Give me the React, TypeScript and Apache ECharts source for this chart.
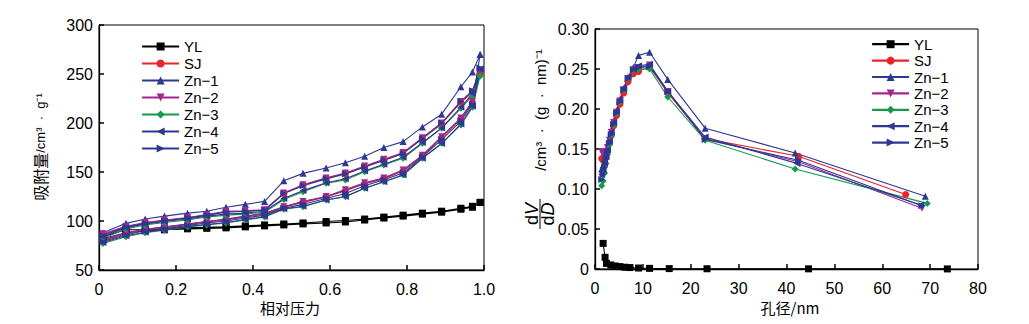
import React, { useEffect, useRef } from "react";
import * as echarts from "echarts";

// ---------- Left chart: adsorption isotherms ----------
const P_ADS = [0.01, 0.07, 0.12, 0.17, 0.23, 0.28, 0.33, 0.38, 0.43, 0.48, 0.53, 0.59, 0.64, 0.69, 0.74, 0.79, 0.84, 0.89, 0.94, 0.97, 0.99];
const P_DES = [0.99, 0.97, 0.94, 0.89, 0.84, 0.79, 0.74, 0.69, 0.64, 0.59, 0.53, 0.48, 0.43, 0.38, 0.33, 0.28, 0.23, 0.17, 0.12, 0.07, 0.01];

const YL_ADS = [80, 88, 90, 91, 92, 92.5, 93, 94, 95, 96, 97, 98, 99, 101, 103, 105, 107, 109, 112, 114, 119];
const YL_DES = [119, 115, 113, 110, 108, 106, 104, 102, 100.5, 99.5, 98, 97, 96, 95, 94, 93.5, 93, 92, 91, 91, 84];
const SJ_ADS = [80, 87, 91, 93, 96.5, 99, 101, 104, 107, 114, 119, 124.5, 131, 138, 143, 151, 166, 185, 204, 221, 250];
const SJ_DES = [250, 231, 221, 199, 184, 169, 162, 155, 148.6, 143.6, 136.7, 128, 111, 110, 109.5, 106, 103, 100.5, 98, 94, 86];
const ZN1_ADS = [82, 88, 91.5, 94, 97, 99.5, 102, 105, 108, 114.6, 119.7, 124.8, 131.6, 138.5, 143.6, 152, 167, 186, 205, 222, 270];
const ZN1_DES = [270, 252, 237, 209, 196, 181, 175, 166, 159.5, 154, 148.6, 141, 120, 117, 114, 110, 108, 105, 102, 97.6, 88];
const ZN2_ADS = [81, 87.5, 91.5, 93.5, 97, 99.5, 101.5, 104.5, 107.5, 114.6, 120, 125, 132, 139, 144, 152, 167, 186, 205, 222, 252];
const ZN2_DES = [252, 232, 222, 200, 185, 170, 163, 156, 149, 144, 137, 128.5, 111.5, 110.5, 110, 106.5, 103.5, 101, 98.5, 94.5, 87];
const ZN3_ADS = [77, 84, 88, 90.5, 94, 96, 98, 101, 104, 112, 114.6, 121.4, 124.8, 133.4, 140.1, 146.9, 164, 179.3, 198, 216, 248];
const ZN3_DES = [248, 228, 215, 194.6, 179.3, 164, 157.1, 150.3, 141.8, 138.5, 129.9, 122, 109, 107, 106, 104, 101, 98.5, 96, 92, 82];
const ZN4_ADS = [78, 85, 88.5, 91, 94.5, 96.5, 98.5, 101.5, 104.5, 112.5, 115, 121.5, 125, 133.5, 140, 147, 164, 179, 199, 217, 255];
const ZN4_DES = [255, 230, 216, 195, 180, 165, 158, 151, 143, 139, 131, 123, 110, 108, 107, 105, 102, 99.5, 97, 93, 84];
const ZN5_ADS = [79, 86, 90, 92, 95.5, 98, 100, 103, 106, 113, 117, 123, 128, 136, 142, 149, 165.5, 183, 202, 219, 256];
const ZN5_DES = [256, 233, 222, 200, 184, 169, 162, 155, 148, 143, 136, 128, 111, 110, 109, 106, 103, 100, 97.5, 94, 85];

// ---------- Right chart: pore size distribution ----------
const YL_D = [1.7, 2.1, 2.4, 3.3, 4.2, 5.2, 6.3, 7.3, 9.1, 11.4, 15.5, 23.4, 44.6, 73.6];
const YL_V = [0.032, 0.0146, 0.007, 0.005, 0.0038, 0.003, 0.0022, 0.0018, 0.0012, 0.0008, 0.0005, 0.0003, 0.0002, 0.0001];

const D_GRID = [1.4, 1.7, 2.0, 2.3, 2.6, 3.0, 3.4, 3.9, 4.5, 5.2, 6.0, 6.9, 8.0, 9.1, 11.4, 15.2, 23.0];
// per series (SJ, Zn-1 .. Zn-5): last two pore sizes
const D_MID = [42.5, 41.8, 42.5, 41.8, 42.2, 42.5];
const D_LAST = [64.9, 69.0, 68.3, 69.4, 68.0, 68.3];

const SJ_V = [0.138, 0.136, 0.135, 0.14, 0.147, 0.157, 0.167, 0.179, 0.192, 0.206, 0.22, 0.234, 0.244, 0.247, 0.253, 0.22, 0.163, 0.141, 0.093];
const ZN1_V = [0.125, 0.13, 0.138, 0.146, 0.153, 0.163, 0.173, 0.185, 0.198, 0.212, 0.226, 0.24, 0.252, 0.267, 0.271, 0.237, 0.176, 0.145, 0.091];
const ZN2_V = [0.147, 0.143, 0.142, 0.146, 0.152, 0.161, 0.171, 0.183, 0.196, 0.21, 0.224, 0.238, 0.249, 0.252, 0.255, 0.222, 0.163, 0.134, 0.076];
const ZN3_V = [0.104, 0.11, 0.12, 0.132, 0.143, 0.155, 0.167, 0.18, 0.194, 0.209, 0.224, 0.238, 0.248, 0.25, 0.25, 0.215, 0.161, 0.125, 0.082];
const ZN4_V = [0.118, 0.124, 0.132, 0.141, 0.149, 0.16, 0.171, 0.183, 0.197, 0.211, 0.226, 0.24, 0.25, 0.254, 0.256, 0.222, 0.165, 0.132, 0.08];
const ZN5_V = [0.112, 0.118, 0.127, 0.137, 0.146, 0.157, 0.168, 0.181, 0.195, 0.209, 0.224, 0.238, 0.249, 0.252, 0.253, 0.222, 0.162, 0.136, 0.079];

const NAMES = ["YL", "SJ", "Zn\u22121", "Zn\u22122", "Zn\u22123", "Zn\u22124", "Zn\u22125"];
const COLORS = ["#000000", "#e8232b", "#2e3791", "#a3268f", "#15994b", "#2e3791", "#2e3791"];
const SYMBOLS = [
  "rect",
  "circle",
  "triangle",
  "path://M0,0 L10,0 L5,10 Z",
  "diamond",
  "path://M0,5 L10,0 L10,10 Z",
  "path://M0,0 L10,5 L0,10 Z",
];

const ISO_ADS = [YL_ADS, SJ_ADS, ZN1_ADS, ZN2_ADS, ZN3_ADS, ZN4_ADS, ZN5_ADS];
const ISO_DES = [YL_DES, SJ_DES, ZN1_DES, ZN2_DES, ZN3_DES, ZN4_DES, ZN5_DES];
const PSD_V = [SJ_V, ZN1_V, ZN2_V, ZN3_V, ZN4_V, ZN5_V];

const LATIN = "'Liberation Sans', Arial, sans-serif";
const CJK = "'Noto Sans CJK SC', sans-serif";

export default function App() {
  const ref = useRef<HTMLDivElement>(null);
  useEffect(() => {
    document.body.style.margin = "0";
    const chart = echarts.init(ref.current!, null, { renderer: "svg" });

    const seriesBase = (i: number) => ({
      type: "line",
      name: NAMES[i],
      symbol: SYMBOLS[i],
      symbolSize: 7,
      showSymbol: true,
      color: COLORS[i],
      lineStyle: { width: 1.1, color: COLORS[i] },
      itemStyle: { color: COLORS[i] },
    });

    const series: any[] = [];
    for (let i = 0; i < NAMES.length; i++) {
      const data = [
        ...P_ADS.map((p, k) => [p, ISO_ADS[i][k]]),
        ...P_DES.map((p, k) => [p, ISO_DES[i][k]]),
      ];
      series.push({ ...seriesBase(i), xAxisIndex: 0, yAxisIndex: 0, data });
    }
    series.push({
      ...seriesBase(0),
      xAxisIndex: 1,
      yAxisIndex: 1,
      data: YL_D.map((d, k) => [d, YL_V[k]]),
    });
    for (let j = 0; j < PSD_V.length; j++) {
      const i = j + 1;
      const ds = [...D_GRID, D_MID[j], D_LAST[j]];
      series.push({
        ...seriesBase(i),
        xAxisIndex: 1,
        yAxisIndex: 1,
        data: ds.map((d, k) => [d, PSD_V[j][k]]),
      });
    }

    const axisCommon = {
      axisLine: { show: true, onZero: false, lineStyle: { color: "#000", width: 1.3 } },
      axisTick: { show: true, inside: true, length: 5, lineStyle: { color: "#000", width: 1.5 } },
      splitLine: { show: false },
      axisLabel: { color: "#000", fontSize: 16, fontFamily: LATIN },
    };

    const legendCommon = {
      orient: "vertical",
      data: NAMES,
      itemWidth: 37,
      itemHeight: 10,
      itemGap: 0,
      lineStyle: { width: 2.2 },
      selectedMode: false,
    };

    const option: any = {
      animation: false,
      backgroundColor: "#fff",
      grid: [
        { left: 99, top: 25, width: 385, height: 245, show: true, borderColor: "#000", borderWidth: 1, backgroundColor: "transparent" },
        { left: 595, top: 29, width: 383, height: 240, show: true, borderColor: "#000", borderWidth: 1, backgroundColor: "transparent" },
      ],
      xAxis: [
        {
          ...axisCommon,
          gridIndex: 0,
          type: "value",
          min: 0,
          max: 1,
          interval: 0.2,
          axisLabel: { ...axisCommon.axisLabel, margin: 11, formatter: (v: number) => (v === 0 ? "0" : v.toFixed(1)) },
        },
        {
          ...axisCommon,
          gridIndex: 1,
          type: "value",
          min: 0,
          max: 80,
          interval: 10,
          axisLabel: { ...axisCommon.axisLabel, margin: 11 },
        },
      ],
      yAxis: [
        {
          ...axisCommon,
          gridIndex: 0,
          type: "value",
          min: 50,
          max: 300,
          interval: 50,
          axisLabel: { ...axisCommon.axisLabel, margin: 6 },
        },
        {
          ...axisCommon,
          gridIndex: 1,
          type: "value",
          min: 0,
          max: 0.3,
          interval: 0.05,
          axisLabel: { ...axisCommon.axisLabel, margin: 6, formatter: (v: number) => (v === 0 ? "0" : v.toFixed(2)) },
        },
      ],
      legend: [
        {
          ...legendCommon,
          left: 136,
          top: 33,
          textStyle: { color: "#000", fontSize: 15, fontFamily: LATIN, lineHeight: 17 },
        },
        {
          ...legendCommon,
          left: 866,
          top: 31,
          textStyle: { color: "#000", fontSize: 15, fontFamily: LATIN, lineHeight: 16.4 },
        },
      ],
      graphic: [
        {
          type: "text",
          x: 40,
          y: 147,
          rotation: Math.PI / 2,
          style: {
            text: "{c|吸附量}{l|/cm³  ·  g⁻¹}",
            textAlign: "center",
            textVerticalAlign: "middle",
            fill: "#000",
            rich: {
              c: { fontSize: 16, fontFamily: CJK, fill: "#000" },
              l: { fontSize: 13, fontFamily: LATIN, fill: "#000" },
            },
          },
        },
        {
          type: "text",
          x: 290,
          y: 307,
          style: { text: "相对压力", textAlign: "center", textVerticalAlign: "middle", fontSize: 15, fontFamily: CJK, fill: "#000" },
        },
        {
          type: "text",
          x: 790,
          y: 307,
          style: { text: "孔径/nm", textAlign: "center", textVerticalAlign: "middle", fontSize: 15, fontFamily: CJK, fill: "#000" },
        },
        {
          type: "text",
          x: 532,
          y: 214,
          rotation: Math.PI / 2,
          style: {
            text: "{n|d}{i|V}",
            textAlign: "center",
            textVerticalAlign: "middle",
            rich: {
              n: { fontSize: 18, fontFamily: LATIN, fill: "#000" },
              i: { fontSize: 18, fontFamily: LATIN, fontStyle: "italic", fill: "#000" },
            },
          },
        },
        {
          type: "line",
          shape: { x1: 540, y1: 199, x2: 540, y2: 229 },
          style: { stroke: "#000", lineWidth: 1 },
        },
        {
          type: "text",
          x: 548,
          y: 214,
          rotation: Math.PI / 2,
          style: {
            text: "{n|d}{i|D}",
            textAlign: "center",
            textVerticalAlign: "middle",
            rich: {
              n: { fontSize: 18, fontFamily: LATIN, fill: "#000" },
              i: { fontSize: 18, fontFamily: LATIN, fontStyle: "italic", fill: "#000" },
            },
          },
        },
        {
          type: "text",
          x: 540,
          y: 110,
          rotation: Math.PI / 2,
          style: {
            text: "/cm³  ·  (g  ·  nm)⁻¹",
            textAlign: "center",
            textVerticalAlign: "middle",
            fontSize: 15,
            fontFamily: LATIN,
            fill: "#000",
          },
        },
      ],
      series,
    };

    chart.setOption(option);
    return () => chart.dispose();
  }, []);

  return (
    <div
      ref={ref}
      style={{ position: "absolute", left: 0, top: 0, width: 1029, height: 324, background: "#fff" }}
    />
  );
}
